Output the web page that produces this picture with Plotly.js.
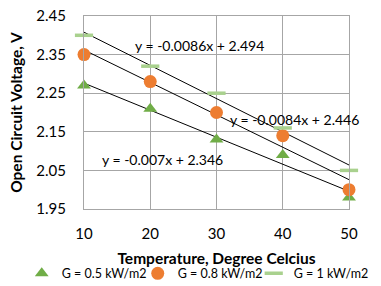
<!DOCTYPE html>
<html>
<head>
<meta charset="utf-8">
<script src="https://cdn.plot.ly/plotly-3.0.1.min.js"></script>
<style>html,body{margin:0;padding:0;background:#fff}#chart{width:381px;height:286px}</style>
</head>
<body>
<div id="chart"></div>
<script>
// Data
var temperature = [10, 20, 30, 40, 50];
var vocG05 = [2.27, 2.21, 2.13, 2.09, 1.98];
var vocG08 = [2.35, 2.28, 2.20, 2.14, 2.00];
var vocG10 = [2.40, 2.32, 2.25, 2.16, 2.05];
var seriesNames = ['G = 0.5 kW/m2', 'G = 0.8 kW/m2', 'G = 1 kW/m2'];
var equationLabels = ['y = -0.007x + 2.346', 'y = -0.0084x + 2.446', 'y = -0.0086x + 2.494'];
var xTicks = [10, 20, 30, 40, 50];
var yTicks = [1.95, 2.05, 2.15, 2.25, 2.35, 2.45];

// least squares trend line (as Excel's linear trendline)
function fit(x, y) {
  var n = x.length, mx = 0, my = 0;
  for (var i = 0; i < n; i++) { mx += x[i]; my += y[i]; }
  mx /= n; my /= n;
  var sxy = 0, sxx = 0;
  for (var j = 0; j < n; j++) { sxy += (x[j]-mx)*(y[j]-my); sxx += (x[j]-mx)*(x[j]-mx); }
  var m = sxy / sxx, b = my - m*mx;
  var xs = [x[0], x[n-1]];
  return {x: xs, y: xs.map(function(v){return m*v + b;})};
}

var font = 'Lato, "Open Sans", sans-serif';
var cGreen = '#70AD47', cOrange = '#ED7D31', cLight = '#A9D18E';

var traces = [];
[vocG05, vocG08, vocG10].forEach(function(s){
  var f = fit(temperature, s);
  traces.push({x: f.x, y: f.y, mode: 'lines', line: {color: '#000', width: 1}, showlegend: false, hoverinfo: 'skip'});
});
traces.push({x: temperature, y: vocG05, name: seriesNames[0], mode: 'markers', type: 'scatter',
  marker: {symbol: 'triangle-up', size: 12, color: cGreen}, cliponaxis: false});
traces.push({x: temperature, y: vocG08, name: seriesNames[1], mode: 'markers', type: 'scatter',
  marker: {symbol: 'circle', size: 13, color: cOrange}, cliponaxis: false});
traces.push({x: temperature, y: vocG10, name: seriesNames[2], mode: 'markers', type: 'scatter',
  marker: {symbol: 'line-ew', size: 13, color: cLight, line: {color: cLight, width: 3.5}}, cliponaxis: false});

var layout = {
  width: 381, height: 286,
  margin: {l: 84, r: 32, t: 16, b: 77, autoexpand: false},
  paper_bgcolor: '#fff', plot_bgcolor: '#fff',
  font: {family: font, size: 14, color: '#000'},
  showlegend: true,
  legend: {orientation: 'h', x: -0.235, xanchor: 'left', y: -0.335, yanchor: 'middle',
    font: {size: 12.5}, itemwidth: 30, entrywidth: 71, entrywidthmode: 'pixels',
    tracegroupgap: 0, bgcolor: 'rgba(0,0,0,0)'},
  xaxis: {range: [10, 50], tickvals: xTicks, ticktext: xTicks.map(String),
    showgrid: true, gridcolor: '#a6a6a6', gridwidth: 1, zeroline: false,
    showline: true, linecolor: '#a6a6a6', mirror: true, ticks: '', ticklen: 0,
    tickfont: {size: 15}, ticklabelstandoff: 11, automargin: true,
    title: {text: '<b>Temperature, Degree Celcius</b>', font: {size: 15.5}, standoff: 12}},
  yaxis: {range: [1.95, 2.45], tickvals: yTicks, ticktext: yTicks.map(function(v){return v.toFixed(2);}),
    showgrid: true, gridcolor: '#a6a6a6', gridwidth: 1, zeroline: false,
    showline: true, linecolor: '#a6a6a6', mirror: true, ticks: '', ticklen: 0,
    tickfont: {size: 15}, ticklabelstandoff: 14, automargin: true,
    title: {text: '<b>Open Circuit Voltage, V</b>', font: {size: 15.5}, standoff: 9}},
  annotations: [
    {x: 21.9, y: 2.079, text: equationLabels[0], showarrow: false, font: {size: 14}, xref: 'x', yref: 'y'},
    {x: 41.7, y: 2.182, text: equationLabels[1], showarrow: false, font: {size: 14}, xref: 'x', yref: 'y'},
    {x: 27.5, y: 2.373, text: equationLabels[2], showarrow: false, font: {size: 14}, xref: 'x', yref: 'y'}
  ]
};

Plotly.newPlot('chart', traces, layout, {displayModeBar: false, staticPlot: true});
</script>
</body>
</html>
